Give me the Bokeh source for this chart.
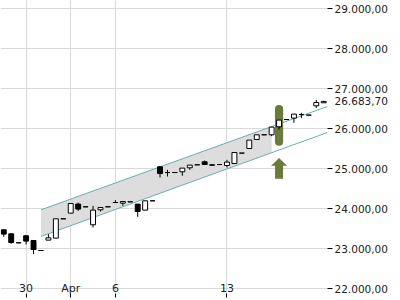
from bokeh.plotting import figure
from bokeh.models import Range1d, FixedTicker, LinearAxis
from bokeh.embed import file_html
from bokeh.resources import INLINE

# ---- data ----
opens  = [23475, 23375, 23150, 23325, 23207, 22957, 23217, 23267, 23750, 23892,
          24117, 24050, 23600, 23975, 24050, 24157, 24142, 24175, 24117, 23967,
          24200, 25050, 24907, 24907, 24925, 25025, 25100, 25175, 25100, 25107,
          25082, 25132, 25392, 25507, 25732, 25850, 25850, 26050, 26232, 26267,
          26357, 26342, 26575, 26650]
highs  = [23475, 23375, 23150, 23342, 23207, 22957, 23367, 23750, 23750, 24132,
          24157, 24050, 24075, 24032, 24050, 24217, 24182, 24175, 24117, 24200,
          24200, 25050, 24975, 24907, 25017, 25092, 25100, 25207, 25100, 25107,
          25225, 25407, 25392, 25717, 25850, 25850, 26042, 26217, 26232, 26367,
          26400, 26342, 26725, 26700]
lows   = [23300, 23125, 23150, 23107, 22867, 22957, 23217, 23267, 23750, 23892,
          23950, 24050, 23532, 23932, 24050, 24157, 24075, 24175, 23800, 23967,
          24200, 24782, 24807, 24907, 24825, 24975, 25100, 25107, 25090, 25107,
          25032, 25132, 25392, 25507, 25732, 25850, 25817, 25982, 26232, 26150,
          26267, 26342, 26517, 26650]
closes = [23367, 23157, 23150, 23192, 22982, 22957, 23275, 23750, 23750, 24132,
          23992, 24050, 23967, 24032, 24050, 24157, 24182, 24175, 23932, 24200,
          24200, 24882, 24907, 24907, 25017, 25092, 25100, 25107, 25090, 25107,
          25167, 25407, 25392, 25717, 25850, 25850, 26042, 26217, 26232, 26367,
          26357, 26342, 26657, 26683.70]
bar_index = list(range(len(opens)))

x_tick_pos = [3, 9, 15, 30]
x_tick_labels = ["30", "Apr", "6", "13"]

y_ticks = [22000, 23000, 24000, 25000, 26000, 27000, 28000, 29000]
y_tick_labels = ["22.000,00", "23.000,00", "24.000,00", "25.000,00",
                 "26.000,00", "27.000,00", "28.000,00", "29.000,00"]

last_price = 26683.70
last_price_label = "26.683,70"

# trend channel
channel_x = [5, 43.5]
channel_upper = [23975, 26558]
channel_lower = [23308, 25908]
band_x = [5, 36]
band_upper = [23975, 26055]
band_lower = [23308, 25401]

# signal marker
signal_idx = 37
signal_top = 26592
signal_bottom = 25575
arrow_tip = 25268
arrow_neck = 25075
arrow_base = 24750

# ---- styling ----
GREEN = "#6b7b3b"
TEAL = "#6fabb2"
GRID = "#d9d9d9"
FONT = "DejaVu Sans"
TXT = "#222222"

p = figure(width=400, height=300, output_backend="svg", toolbar_location=None,
           x_range=Range1d(-0.44, 43.51), y_range=Range1d(21882.5, 29207.5),
           y_axis_location=None, min_border_left=0, min_border_top=0,
           min_border_right=73, min_border_bottom=7)
p.outline_line_color = None
p.background_fill_color = "white"

# right axis 1: tick marks only
tick_axis = LinearAxis(ticker=FixedTicker(ticks=y_ticks),
                       major_label_overrides={t: "" for t in y_ticks},
                       axis_line_color=None, major_tick_in=0, major_tick_out=5,
                       minor_tick_line_color=None, major_label_standoff=0,
                       major_label_text_font_size="1px")
p.add_layout(tick_axis, "right")

# right axis 2: labels (incl. last price)
label_ticks = y_ticks + [last_price]
label_texts = y_tick_labels + [last_price_label]
label_axis = LinearAxis(ticker=FixedTicker(ticks=label_ticks),
                        major_label_overrides={t: l for t, l in zip(label_ticks, label_texts)},
                        axis_line_color=None, major_tick_line_color=None,
                        major_tick_in=0, major_tick_out=0,
                        minor_tick_line_color=None, major_label_standoff=2,
                        major_label_text_font=FONT, major_label_text_font_size="10.5px",
                        major_label_text_color=TXT)
p.add_layout(label_axis, "right")

p.xaxis.ticker = FixedTicker(ticks=x_tick_pos)
p.xaxis.major_label_overrides = {t: l for t, l in zip(x_tick_pos, x_tick_labels)}
p.xaxis.axis_line_color = None
p.xaxis.major_tick_in = 0
p.xaxis.major_tick_out = 4
p.xaxis.minor_tick_line_color = None
p.xaxis.major_label_standoff = -16
p.xaxis.major_label_text_font = FONT
p.xaxis.major_label_text_font_size = "11px"
p.xaxis.major_label_text_color = TXT

p.xgrid.ticker = FixedTicker(ticks=x_tick_pos)
p.ygrid.ticker = FixedTicker(ticks=y_ticks)
p.grid.grid_line_color = GRID
p.grid.grid_line_width = 1

# channel
p.varea(x=band_x, y1=band_lower, y2=band_upper, fill_color="#dddddd")
p.line(channel_x, channel_upper, line_color=TEAL, line_width=1)
p.line(channel_x, channel_lower, line_color=TEAL, line_width=1)

# signal highlight
p.quad(left=[signal_idx - 0.55], right=[signal_idx + 0.55],
       top=[signal_top], bottom=[signal_bottom],
       fill_color=GREEN, line_color=None, border_radius=4)
hw, sw = 1.07, 0.54
p.patch([signal_idx - sw, signal_idx - sw, signal_idx - hw, signal_idx,
         signal_idx + hw, signal_idx + sw, signal_idx + sw],
        [arrow_base, arrow_neck, arrow_neck, arrow_tip,
         arrow_neck, arrow_neck, arrow_base],
        fill_color=GREEN, line_color=None)

# candles
body_top = [max(o, c) for o, c in zip(opens, closes)]
body_bot = [min(o, c) for o, c in zip(opens, closes)]
fills = ["white" if c >= o else "black" for o, c in zip(opens, closes)]
p.segment(x0=bar_index, y0=highs, x1=bar_index, y1=lows, line_color="black", line_width=1)
p.vbar(x=bar_index, width=0.66, top=body_top, bottom=body_bot,
       fill_color=fills, line_color="black", line_width=1)

open("out.html", "w").write(file_html(p, INLINE))
